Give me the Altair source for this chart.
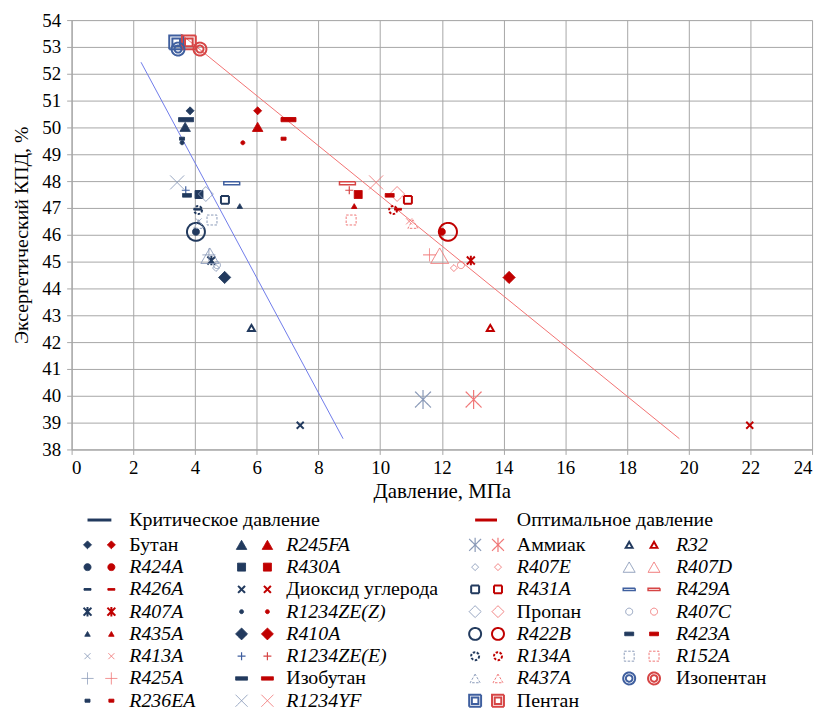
import altair as alt
import pandas as pd

# ---------------- data ----------------
names = ["Бутан", "R424A", "R426A", "R407A", "R435A", "R413A", "R425A", "R236EA",
         "R245FA", "R430A", "Диоксид углерода", "R1234ZE(Z)", "R410A", "R1234ZE(E)", "Изобутан", "R1234YF",
         "Аммиак", "R407E", "R431A", "Пропан", "R422B", "R134A", "R437A", "Пентан",
         "R32", "R407D", "R429A", "R407C", "R423A", "R152A", "Изопентан"]
crit_p = [3.84, 4.03, 4.10, 4.53, 5.45, 4.12, 4.45, 3.58,
          3.68, 4.13, 7.41, 3.58, 4.96, 3.70, 3.71, 3.42,
          11.39, 4.68, 4.97, 4.35, 4.03, 4.10, 4.12, 3.39,
          5.83, 4.48, 5.19, 4.71, 3.74, 4.55, 3.45]
opt_p = [6.03, 12.00, 10.58, 12.94, 9.16, 10.94, 11.60, 6.87,
         6.03, 9.29, 21.98, 5.55, 14.18, 9.00, 7.03, 9.87,
         13.03, 12.39, 10.90, 10.55, 12.20, 10.42, 11.06, 3.80,
         13.57, 11.93, 8.94, 12.62, 10.31, 9.06, 4.16]
exergy = [50.62, 46.11, 46.95, 45.04, 47.07, 46.50, 45.25, 49.58,
          50.02, 47.50, 38.90, 49.43, 44.41, 47.66, 50.29, 47.95,
          39.86, 44.76, 47.30, 47.52, 46.11, 46.92, 46.40, 53.17,
          42.53, 45.22, 47.92, 44.87, 47.47, 46.55, 52.92]

crit_line_x = [2.25, 8.8]
crit_line_y = [52.43, 38.4]
opt_line_x = [3.54, 19.7]
opt_line_y = [53.48, 38.4]

x_ticks = list(range(0, 25, 2))
y_ticks = list(range(38, 55))

# ---------------- styles ----------------
FONT = "Times New Roman, Liberation Serif, Tinos, FreeSerif, Noto Serif, DejaVu Serif, serif"
DARK = {"b": "#223A5E", "r": "#C00000"}
MID = {"b": "#3F5F9F", "r": "#D64545"}
LIGHT = {"b": "#8A9AB8", "r": "#F07878"}

P = {
    "x": "M-1,-1L1,1M-1,1L1,-1",
    "plus": "M-1,0H1M0,-1V1",
    "ast": "M-1,-1L1,1M-1,1L1,-1M0,-1.2V1.2",
    "dash": "M-1,-0.25H1V0.25H-1Z",
    "dash2": "M-1,-0.6H1V0.6H-1Z",
    "dash3": "M-1,-0.4H1V0.4H-1Z",
    "thick": "M-1,-0.28H1V0.28H-1Z",
    "flat": "M-1,-0.2H1V0.2H-1Z",
    "dsq": "M-1,-1H1V1H-1ZM-0.55,-0.55H0.55V0.55H-0.55Z",
    "dci": "M-1,0A1,1,0,1,0,1,0A1,1,0,1,0,-1,0ZM-0.55,0A0.55,0.55,0,1,0,0.55,0A0.55,0.55,0,1,0,-0.55,0Z",
}
# name: (shape, size, filled, strokeWidth, tone, dashed)
S = {
    "Бутан": ("diamond", 64, True, 1, DARK, False),
    "R424A": ("circle", 49, True, 1, DARK, False),
    "R426A": (P["dash"], 49, True, 1, DARK, False),
    "R407A": (P["ast"], 64, False, 2, DARK, False),
    "R435A": ("triangle-up", 30, True, 1, DARK, False),
    "R413A": (P["x"], 36, False, 1, LIGHT, False),
    "R425A": (P["plus"], 169, False, 1, LIGHT, False),
    "R236EA": (P["dash2"], 25, True, 1, DARK, False),
    "R245FA": ("triangle-up", 110, True, 1, DARK, False),
    "R430A": ("square", 64, True, 1, DARK, False),
    "Диоксид углерода": (P["x"], 49, False, 2, DARK, False),
    "R1234ZE(Z)": ("circle", 16, True, 1, DARK, False),
    "R410A": ("diamond", 150, True, 1, DARK, False),
    "R1234ZE(E)": (P["plus"], 64, False, 1.2, MID, False),
    "Изобутан": (P["thick"], 225, True, 1, DARK, False),
    "R1234YF": (P["x"], 196, False, 1, LIGHT, False),
    "Аммиак": (P["ast"], 256, False, 1.2, LIGHT, False),
    "R407E": ("diamond", 49, False, 1, LIGHT, False),
    "R431A": ("square", 64, False, 2, DARK, False),
    "Пропан": ("diamond", 225, False, 1, LIGHT, False),
    "R422B": ("circle", 324, False, 2, DARK, False),
    "R134A": ("circle", 64, False, 2, DARK, True),
    "R437A": ("triangle-up", 100, False, 1, LIGHT, True),
    "Пентан": (P["dsq"], 196, False, 2, MID, False),
    "R32": ("triangle-up", 49, False, 2, DARK, False),
    "R407D": ("triangle-up", 324, False, 1, LIGHT, False),
    "R429A": (P["flat"], 256, False, 1.5, MID, False),
    "R407C": ("circle", 49, False, 1, LIGHT, False),
    "R423A": (P["dash3"], 81, True, 1, DARK, False),
    "R152A": ("square", 100, False, 1, LIGHT, True),
    "Изопентан": (P["dci"], 169, False, 2, MID, False),
}

# legend layout (pixels relative to plot origin)
OX, OY = 72, 18
col_bx = [88, 243, 478, 633]
col_rx = [112, 269, 501, 658]
col_tx = [130, 288, 520, 680]
row_y0, row_dy = 546, 22.4
LFS = 20

pts, leg_pts, leg_txt = [], [], []
for i, n in enumerate(names):
    shape, size, filled, sw, tone, dashed = S[n]
    col, row = i // 8, i % 8
    ly = row_y0 + row * row_dy - OY
    for key, xv, lx in (("b", crit_p[i], col_bx[col]), ("r", opt_p[i], col_rx[col])):
        c = tone[key]
        rec = dict(name=n, shape=shape, size=size, sw=sw, stroke=c,
                   fill=c if filled else ("white" if n == "R429A" else "transparent"),
                   dashed=dashed)
        pts.append(dict(rec, x=xv, y=exergy[i]))
        leg_pts.append(dict(rec, lx=lx - OX, ly=ly, size=min(size, 144)))
    leg_txt.append(dict(name=n, tx=col_tx[col] - OX, ty=ly, italic=n.startswith("R")))

df = pd.DataFrame(pts)
dfl = pd.DataFrame(leg_pts)
dft = pd.DataFrame(leg_txt)

lines = pd.DataFrame({
    "x": crit_line_x + opt_line_x,
    "y": crit_line_y + opt_line_y,
    "kind": ["crit", "crit", "opt", "opt"],
})

xs = alt.Scale(domain=[0, 24], nice=False)
ys = alt.Scale(domain=[38, 54], nice=False)

axis_common = dict(labelFont=FONT, labelFontSize=19, labelColor="black", labelOverlap=False,
                   titleFont=FONT, titleFontWeight="normal", titleColor="black",
                   gridColor="#A6A6A6", domainColor="#A6A6A6", tickColor="#A6A6A6", tickSize=5)
x_axis = alt.Axis(values=x_ticks, title="Давление, МПа", labelPadding=4, titlePadding=3,
                  titleFontSize=21, **axis_common)
y_axis = alt.Axis(values=y_ticks, title="Эксергетический КПД, %", labelPadding=6, titlePadding=10,
                  titleFontSize=20, **axis_common)

base_lines = alt.Chart(lines).mark_line(strokeWidth=1).encode(
    x=alt.X("x:Q", scale=xs, axis=x_axis),
    y=alt.Y("y:Q", scale=ys, axis=y_axis),
    detail="kind:N",
    color=alt.Color("kind:N", scale=alt.Scale(domain=["crit", "opt"], range=["#6F7BEA", "#F27272"]), legend=None),
)


def point_layer(data, dashed, legend):
    d = data[data["dashed"] == dashed]
    m = alt.Chart(d).mark_point(opacity=1, strokeDash=[2.5, 1.5] if dashed else [1, 0])
    if legend:
        xe = alt.X("lx:Q", scale=None, axis=None)
        ye = alt.Y("ly:Q", scale=None, axis=None)
    else:
        xe = alt.X("x:Q", scale=xs, axis=x_axis)
        ye = alt.Y("y:Q", scale=ys, axis=y_axis)
    return m.encode(
        x=xe, y=ye,
        shape=alt.Shape("shape:N", scale=None),
        size=alt.Size("size:Q", scale=None),
        fill=alt.Fill("fill:N", scale=None),
        stroke=alt.Stroke("stroke:N", scale=None),
        strokeWidth=alt.StrokeWidth("sw:Q", scale=None),
    )


hdr = pd.DataFrame({
    "x1": [88 - OX, 478 - OX], "x2": [112 - OX, 500 - OX], "y": [521 - OY, 521 - OY],
    "c": ["#223A5E", "#C00000"], "tx": [130 - OX, 520 - OX],
    "label": ["Критическое давление", "Оптимальное давление"],
})
hdr_rules = alt.Chart(hdr).mark_rule(strokeWidth=3).encode(
    x=alt.X("x1:Q", scale=None, axis=None), x2="x2:Q",
    y=alt.Y("y:Q", scale=None, axis=None),
    color=alt.Color("c:N", scale=None),
)
hdr_text = alt.Chart(hdr).mark_text(font=FONT, fontSize=LFS, align="left", baseline="middle", color="black").encode(
    x=alt.X("tx:Q", scale=None, axis=None), y=alt.Y("y:Q", scale=None, axis=None), text="label:N")

txt_it = alt.Chart(dft[dft["italic"]]).mark_text(font=FONT, fontSize=LFS, fontStyle="italic", align="left",
                                                   baseline="middle", color="black").encode(
    x=alt.X("tx:Q", scale=None, axis=None), y=alt.Y("ty:Q", scale=None, axis=None), text="name:N")
txt_up = alt.Chart(dft[~dft["italic"]]).mark_text(font=FONT, fontSize=LFS, align="left",
                                                    baseline="middle", color="black").encode(
    x=alt.X("tx:Q", scale=None, axis=None), y=alt.Y("ty:Q", scale=None, axis=None), text="name:N")

chart = alt.layer(
    base_lines,
    point_layer(df, False, False), point_layer(df, True, False),
    point_layer(dfl, False, True), point_layer(dfl, True, True),
    hdr_rules, hdr_text, txt_it, txt_up,
).properties(
    width=745, height=432,
    autosize=alt.AutoSizeParams(type="none"),
    padding={"left": 64, "top": 10, "right": 10, "bottom": 262},
).configure_view(stroke=None).configure(font=FONT)

chart.save("out.html", embed_options={"renderer": "svg", "actions": False})
